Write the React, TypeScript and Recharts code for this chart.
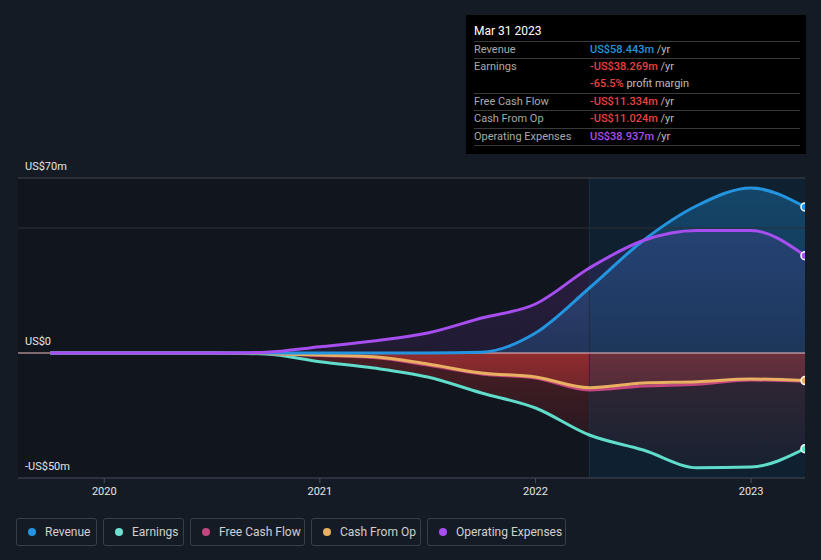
import React from 'react';
import { ComposedChart, Area, Line, XAxis, YAxis, ReferenceArea, ReferenceLine, ReferenceDot } from 'recharts';

const quarters = [2019.75, 2020.0, 2020.25, 2020.5, 2020.75, 2021.0, 2021.25, 2021.5, 2021.75, 2022.0, 2022.25, 2022.5, 2022.75, 2023.0, 2023.25];
const revenue = [0, 0, 0, 0, 0, 0, 0, 0, 0.3, 8, 26, 45, 59, 66, 58.443];
const earnings = [0, 0, 0, 0, -0.4, -3.5, -6, -9.6, -16, -22, -32.8, -38.8, -45.9, -45.6, -38.269];
const freeCashFlow = [0, 0, 0, 0, -0.2, -1, -1.8, -4.8, -8.4, -10, -14.8, -13.2, -12.5, -10.8, -11.334];
const cashFromOp = [0, 0, 0, 0, -0.2, -0.8, -1.5, -4.4, -8, -9.6, -13.9, -12, -11.5, -10.4, -11.024];
const opExpenses = [0, 0, 0, 0, 0.3, 2.5, 4.8, 8, 14, 19.6, 34, 45, 49, 49, 38.937];

const xTicks = [2020, 2021, 2022, 2023];
const yTicks = [-50, 0, 70];
const yTickLabels = ['-US$50m', 'US$0', 'US$70m'];

const COLORS = {
  revenue: '#2394df',
  earnings: '#5fdcca',
  fcf: '#c2467f',
  cfo: '#e8b060',
  opex: '#a64ef0',
};

const legendItems = [
  { label: 'Revenue', color: '#2394df', width: 81 },
  { label: 'Earnings', color: '#6ee0cf', width: 81 },
  { label: 'Free Cash Flow', color: '#c2467f', width: 115 },
  { label: 'Cash From Op', color: '#e8b060', width: 110 },
  { label: 'Operating Expenses', color: '#a64ef0', width: 139 },
];

const tooltipRows = [
  { label: 'Revenue', value: 'US$58.443m', color: '#2394df', suffix: ' /yr', sep: true },
  { label: 'Earnings', value: '-US$38.269m', color: '#e8413f', suffix: ' /yr', sep: true },
  { label: '', value: '-65.5%', color: '#e8413f', suffix: ' profit margin', sep: false },
  { label: 'Free Cash Flow', value: '-US$11.334m', color: '#e8413f', suffix: ' /yr', sep: true },
  { label: 'Cash From Op', value: '-US$11.024m', color: '#e8413f', suffix: ' /yr', sep: true },
  { label: 'Operating Expenses', value: 'US$38.937m', color: '#a64ef0', suffix: ' /yr', sep: true },
];

const data = quarters.map((q, i) => ({
  t: q,
  revenue: revenue[i],
  earnings: earnings[i],
  fcf: freeCashFlow[i],
  cfo: cashFromOp[i],
  opex: opExpenses[i],
}));

const last = data.length - 1;
const FONT = 'Roboto, "Noto Sans", sans-serif';

const makeYLabel = (text: string) => (props: any) => {
  const vb = props.viewBox || {};
  return (
    <text x={25} y={(vb.y ?? 0) - 8} fill="#e6e6e6" fontSize={11} fontFamily={FONT} textAnchor="start">
      {text}
    </text>
  );
};

export default function App() {
  const rowH = 17.35;
  return (
    <div style={{ position: 'absolute', left: 0, top: 0, width: 821, height: 560, background: '#151b25', fontFamily: FONT, overflow: 'hidden' }}>
      <ComposedChart width={821} height={560} data={data} margin={{ top: 178, right: 16, left: 18, bottom: 52 }}>
        <defs>
          <linearGradient id="gRev" x1="0" y1="0" x2="0" y2="1">
            <stop offset="0%" stopColor="#2394df" stopOpacity={0.42} />
            <stop offset="100%" stopColor="#2394df" stopOpacity={0.22} />
          </linearGradient>
          <linearGradient id="gOpex" x1="0" y1="0" x2="0" y2="1">
            <stop offset="0%" stopColor="#a64ef0" stopOpacity={0.18} />
            <stop offset="100%" stopColor="#a64ef0" stopOpacity={0.1} />
          </linearGradient>
          <linearGradient id="gEarn" x1="0" y1="0" x2="0" y2="1">
            <stop offset="0%" stopColor="#d03232" stopOpacity={0.3} />
            <stop offset="100%" stopColor="#d03232" stopOpacity={0.06} />
          </linearGradient>
          <linearGradient id="gCfo" x1="0" y1="0" x2="0" y2="1">
            <stop offset="0%" stopColor="#e03c3c" stopOpacity={0.46} />
            <stop offset="100%" stopColor="#e03c3c" stopOpacity={0.32} />
          </linearGradient>
        </defs>
        <XAxis
          dataKey="t"
          type="number"
          domain={[2019.6, 2023.25]}
          ticks={xTicks}
          tickFormatter={(v: number) => String(v)}
          allowDataOverflow
          height={30}
          axisLine={{ stroke: '#474d58' }}
          tickLine={{ stroke: '#474d58' }}
          tickSize={5}
          tickMargin={4}
          tick={{ fill: '#e6e6e6', fontSize: 11, fontFamily: FONT }}
        />
        <YAxis
          type="number"
          domain={[-50, 70]}
          ticks={yTicks}
          width={0}
          axisLine={false}
          tickLine={false}
          tick={false}
          allowDataOverflow
        />
        <ReferenceArea x1={2019.6} x2={2023.25} y1={-50} y2={70} fill="#11151e" fillOpacity={1} stroke="none" />
        <ReferenceLine y={yTicks[2]} stroke="#41464f" strokeWidth={1} label={makeYLabel(yTickLabels[2])} />
        <ReferenceLine y={50} stroke="#2b3039" strokeWidth={1} />
        <ReferenceLine y={yTicks[0]} stroke="none" label={makeYLabel(yTickLabels[0])} />
        <Area dataKey="revenue" type="monotone" stroke="none" fill="url(#gRev)" fillOpacity={1} baseValue={0} isAnimationActive={false} />
        <Area dataKey="opex" type="monotone" stroke="none" fill="url(#gOpex)" fillOpacity={1} baseValue={0} isAnimationActive={false} />
        <Area dataKey="earnings" type="monotone" stroke="none" fill="url(#gEarn)" fillOpacity={1} baseValue={0} isAnimationActive={false} />
        <Area dataKey="cfo" type="monotone" stroke="none" fill="url(#gCfo)" fillOpacity={1} baseValue={0} isAnimationActive={false} />
        <ReferenceArea x1={2022.25} x2={2023.25} y1={-50} y2={70} fill="#0c3c5e" fillOpacity={0.3} stroke="none" />
        <ReferenceLine x={2022.25} stroke="#1b3042" strokeWidth={1} />
        <ReferenceLine y={yTicks[1]} stroke="#efc0c0" strokeWidth={1} label={makeYLabel(yTickLabels[1])} />
        <Line dataKey="earnings" type="monotone" stroke={COLORS.earnings} strokeWidth={3} dot={false} isAnimationActive={false} />
        <Line dataKey="fcf" type="monotone" stroke={COLORS.fcf} strokeWidth={3} dot={false} isAnimationActive={false} />
        <Line dataKey="cfo" type="monotone" stroke={COLORS.cfo} strokeWidth={3} dot={false} isAnimationActive={false} />
        <Line dataKey="revenue" type="monotone" stroke={COLORS.revenue} strokeWidth={3} dot={false} isAnimationActive={false} />
        <Line dataKey="opex" type="monotone" stroke={COLORS.opex} strokeWidth={3} dot={false} isAnimationActive={false} />
        <ReferenceDot x={quarters[last]} y={earnings[last]} r={4} fill={COLORS.earnings} stroke="#ffffff" strokeWidth={1.5} ifOverflow="hidden" />
        <ReferenceDot x={quarters[last]} y={cashFromOp[last]} r={4} fill={COLORS.cfo} stroke="#ffffff" strokeWidth={1.5} ifOverflow="hidden" />
        <ReferenceDot x={quarters[last]} y={revenue[last]} r={4} fill={COLORS.revenue} stroke="#ffffff" strokeWidth={1.5} ifOverflow="hidden" />
        <ReferenceDot x={quarters[last]} y={opExpenses[last]} r={4} fill={COLORS.opex} stroke="#ffffff" strokeWidth={1.5} ifOverflow="hidden" />
      </ComposedChart>

      <div style={{ position: 'absolute', left: 466, top: 15, width: 340, height: 139, background: '#000000' }}>
        <div style={{ position: 'absolute', left: 8, top: 9, fontSize: 12, color: '#ffffff', lineHeight: '14px' }}>Mar 31 2023</div>
        {tooltipRows.map((r, i) => (
          <div key={i} style={{ position: 'absolute', left: 8, top: 26 + i * rowH, width: 326, height: rowH, borderTop: r.sep ? '1px solid #3a3a3a' : 'none', boxSizing: 'border-box', fontSize: 11, lineHeight: `${rowH - 1}px` }}>
            <span style={{ position: 'absolute', left: 0, color: '#a9a9a9' }}>{r.label}</span>
            <span style={{ position: 'absolute', left: 116, whiteSpace: 'nowrap' }}>
              <span style={{ color: r.color, fontWeight: 500 }}>{r.value}</span>
              <span style={{ color: '#bdbdbd' }}>{r.suffix}</span>
            </span>
          </div>
        ))}
        <div style={{ position: 'absolute', left: 8, top: 26 + 6 * rowH, width: 326, height: 1, background: '#3a3a3a' }} />
      </div>

      <div style={{ position: 'absolute', left: 16, top: 518, display: 'flex', gap: 6 }}>
        {legendItems.map((it) => (
          <div key={it.label} style={{ width: it.width, height: 28, boxSizing: 'border-box', border: '1px solid #393e49', borderRadius: 3, display: 'flex', alignItems: 'center', paddingLeft: 11, fontSize: 12, color: '#d0d0d0', whiteSpace: 'nowrap' }}>
            <span style={{ width: 8, height: 8, borderRadius: 4, background: it.color, display: 'inline-block', marginRight: 9 }} />
            {it.label}
          </div>
        ))}
      </div>
    </div>
  );
}
